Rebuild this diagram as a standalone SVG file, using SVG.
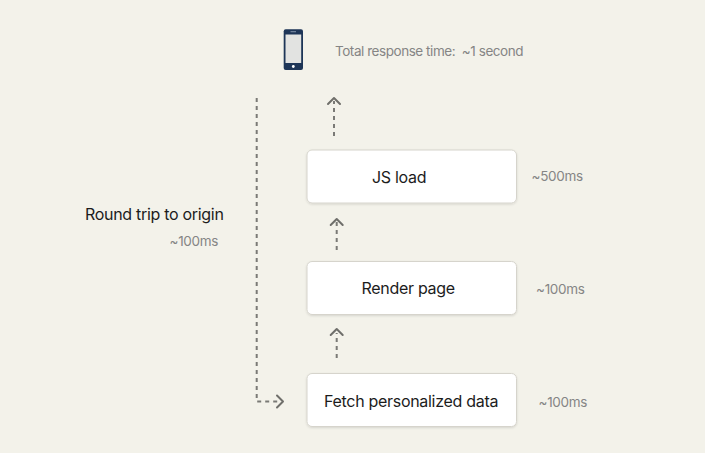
<svg xmlns="http://www.w3.org/2000/svg" width="705" height="453" viewBox="0 0 705 453">
<defs>
<style>
.box{fill:#ffffff;stroke:#d6d4cc;stroke-width:1}
.lbl{font-family:Inter,"Liberation Sans",sans-serif;font-size:16px;fill:#1c1c1c;letter-spacing:-0.3px}
.time{font-family:Inter,"Liberation Sans",sans-serif;font-size:13.5px;fill:#858585;letter-spacing:-0.3px}
.dash{fill:none;stroke:#7a7a76;stroke-width:2;stroke-dasharray:4 4}
.head{fill:none;stroke:#6f6f6b;stroke-width:2;stroke-linecap:round;stroke-linejoin:round}
</style>
<filter id="sh" x="-10%" y="-20%" width="120%" height="150%">
<feDropShadow dx="0" dy="1" stdDeviation="1" flood-color="#000" flood-opacity="0.12"/>
</filter>
</defs>
<rect width="705" height="453" fill="#f3f2ea"/>
<g id="phone">
<rect x="283.7" y="29.3" width="19.3" height="40.7" rx="2" fill="#1d3557"/>
<rect x="285.5" y="34.5" width="15.7" height="28.5" fill="#e2e3e1"/>
<circle cx="293.3" cy="66.5" r="1.4" fill="#ffffff"/>
<rect x="290.5" y="31.3" width="5.5" height="0.9" fill="#8fa0b6"/>
</g>
<g id="total">
<text class="time" x="335" y="56" font-size="14" xml:space="preserve" style="letter-spacing:-0.45px">Total response time:  ~1 second</text>
</g>
<g id="round-trip">
<text class="lbl" x="85" y="220">Round trip to origin</text>
<text class="time" x="169.5" y="246">~100ms</text>
</g>
<g id="js-load">
<rect class="box" x="307" y="150" width="209.5" height="53" rx="5" filter="url(#sh)"/>
<text class="lbl" x="372" y="182.5">JS load</text>
<text class="time" x="531.5" y="180.5">~500ms</text>
</g>
<g id="render-page">
<rect class="box" x="307" y="261.5" width="209.5" height="53" rx="5" filter="url(#sh)"/>
<text class="lbl" x="361.5" y="294">Render page</text>
<text class="time" x="536" y="293.5">~100ms</text>
</g>
<g id="fetch-data">
<rect class="box" x="307" y="373.5" width="209.5" height="53" rx="5" filter="url(#sh)"/>
<text class="lbl" x="324" y="406.5">Fetch personalized data</text>
<text class="time" x="538.5" y="407">~100ms</text>
</g>
<g id="connectors">
<path class="dash" d="M334 136 V101"/>
<path class="head" d="M328 104 L334 98 L340 104"/>
<path class="dash" d="M336.7 250 V222"/>
<path class="head" d="M330.7 225 L336.7 219 L342.7 225"/>
<path class="dash" d="M336.7 358 V333"/>
<path class="head" d="M330.7 335 L336.7 329 L342.7 335"/>
<path class="dash" d="M256.7 98 V401.5 H280"/>
<path class="head" d="M277 395.5 L283 401.5 L277 407.5"/>
</g>
</svg>
